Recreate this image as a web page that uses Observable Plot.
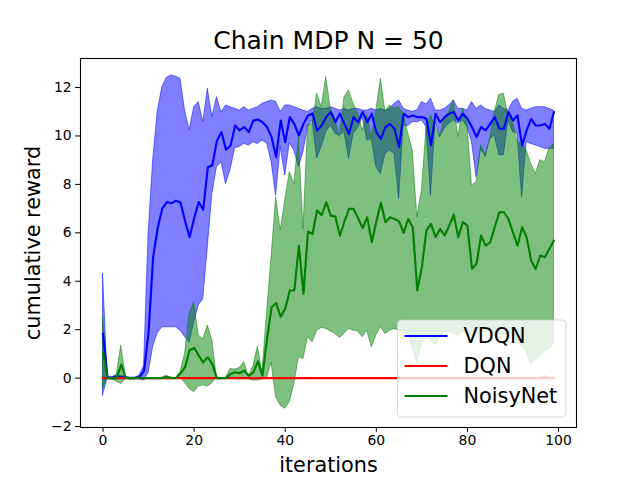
<!DOCTYPE html>
<html><head><meta charset="utf-8">
<script src="https://cdn.jsdelivr.net/npm/d3@7"></script>
<script src="https://cdn.jsdelivr.net/npm/@observablehq/plot@0.6"></script>
<style>body{margin:0;background:#fff;font-family:"DejaVu Sans",sans-serif}</style>
</head><body><div id="chart"></div>
<script>
const title = "Chain MDP N = 50";
const xLabel = "iterations";
const yLabel = "cumulative reward";
const xTicks = [0, 20, 40, 60, 80, 100];
const yTicks = [-2, 0, 2, 4, 6, 8, 10, 12];
const seriesNames = ["VDQN", "DQN", "NoisyNet"];
const seriesColors = ["#0000ff", "#ff0000", "#008000"];
const iterations = d3.range(100);

const vdqnMean = [1.83,0,0.02,0.06,0.04,0.01,0,0,0.05,0.3,
1.9,5.0,6.2,7.0,7.27,7.22,7.33,7.25,6.5,5.82,
6.6,7.27,6.95,8.7,8.8,9.8,10.16,9.43,9.61,10.43,
10.23,10.37,10.16,10.64,10.68,10.57,10.37,9.95,9.13,10.64,
9.74,10.78,10.5,10.02,10.5,10.85,10.92,10.23,10.43,10.78,
10.99,10.57,10.92,10.5,10.09,10.78,10.57,10.99,10.57,10.92,
10.16,9.88,10.37,10.5,10.3,9.54,10.92,10.78,10.85,10.78,
10.78,10.71,9.61,10.92,10.57,10.78,10.92,10.99,10.64,10.92,
10.71,10.37,9.95,10.37,10.23,10.5,10.78,10.3,10.3,10.99,
10.64,10.85,9.61,10.23,10.71,10.43,10.43,10.5,10.3,10.99];
const vdqnHigh = [4.3,0.05,0.05,0.1,0.1,0.05,0.02,0.02,0.1,0.5,
6.0,9.0,11.0,12.0,12.4,12.5,12.45,12.36,11.05,10.23,
11.19,11.4,10.57,11.95,10.78,11.6,10.98,11.26,11.19,11.12,
11.05,11.19,11.05,11.12,11.19,11.33,11.4,11.47,11.4,10.99,
11.26,11.26,11.19,11.12,11.05,10.99,11.12,11.19,11.12,11.12,
11.19,11.12,11.05,11.12,11.05,11.12,11.12,11.05,11.05,11.12,
11.05,11.12,11.05,11.12,11.33,11.47,11.12,11.05,11.0,11.05,
11.4,11.3,11.54,11.05,11.05,11.12,11.26,11.47,11.12,11.12,
11.05,11.4,11.12,11.26,11.12,11.05,10.99,11.26,11.12,11.05,
11.4,11.54,11.12,11.05,11.12,11.19,11.19,11.19,11.12,11.05];
const vdqnLow = [-0.72,0,0,0,0,0,-0.02,-0.02,-0.05,-0.1,
0.2,1.3,1.85,2.1,2.1,2.1,2.1,1.95,1.7,1.45,
2.3,3.0,3.26,5.4,7.6,8.71,8.92,8.02,8.6,9.5,
9.54,9.68,9.6,9.74,9.67,9.81,9.7,8.92,7.54,9.54,
8.37,9.7,9.4,8.71,9.33,10.37,10.64,9.06,9.54,10.16,
10.43,10.09,10.02,10.16,9.06,10.09,10.3,10.78,9.81,9.88,
8.71,8.43,9.26,9.4,9.26,7.4,10.43,10.4,10.57,10.57,
10.64,10.37,7.54,10.57,9.95,10.3,10.5,10.64,10.5,10.64,
10.37,9.74,8.3,9.47,9.13,9.88,10.02,9.2,9.2,10.64,
10.16,10.09,7.47,9.74,9.67,9.61,9.54,9.47,9.47,9.47];

const dqnMean = iterations.map(() => 0);
const dqnHigh = [0,0,0,0,0,0,0,0,0,0, 0,0,0,0,0,0,0,0,0,0,
0,0,0,0,0,0,0,0,0,0, 0,0,0,0,0,0,0,0,0,0,
0,0,0,0,0,0,0,0,0,0, 0,0,0,0,0,0,0,0,0,0,
0,0,0,0,0,0,0,0,0,0, 0,0,0,0,0,0,0,0,0,0,
0,0,0,0,0,0,0,0,0,0, 0,0,0,0,0,0,0,0.1,0,0];
const dqnLow = iterations.map(() => 0);

const noisyMean = [1.07,0,-0.02,0,0.56,0,0,0,0,0,
0,0,0,0,0.05,0,0,0.2,0.45,1.15,
1.25,0.93,0.65,0.86,0.58,0,0,0,0.17,0.24,
0.2,0.31,0.1,0.24,0.69,0.1,1.6,2.93,3.1,2.54,
2.86,3.62,3.62,5.47,3.48,6.05,5.95,6.93,6.73,7.27,
6.71,6.67,5.88,6.47,6.99,6.99,6.6,6.2,6.64,5.61,
6.47,7.24,6.44,6.64,6.57,6.47,6.0,6.57,6.23,3.62,
4.58,6.09,6.37,5.82,6.16,5.89,6.3,6.75,5.82,6.44,
6.3,4.51,4.72,5.89,5.47,5.61,6.23,6.85,6.85,6.57,
6.02,5.47,6.23,5.82,4.85,4.51,5.06,4.99,5.34,5.68];
const noisyHigh = [2.55,0,0,0.15,1.34,0.05,0,0,0,0,
0,0,0,0.02,0.1,0.02,0,0.25,1.0,2.65,
3.13,1.76,1.6,2.17,1.55,0,0,0.02,0.38,0.35,
0.42,0.66,0.05,0.5,1.3,0.2,2.7,5.0,7.47,6.1,
7.33,8.5,8.02,9.95,6.16,10.43,10.5,11.74,11.2,12.43,
11.12,10.64,9.95,11.6,11.88,11.33,10.92,10.23,10.85,9.95,
11.05,12.36,10.99,11.26,11.12,11.19,10.9,10.1,9.4,6.64,
7.74,10.3,10.85,10.37,9.95,10.71,10.99,11.47,9.95,11.12,
10.5,7.95,8.09,9.61,9.2,9.88,10.99,11.7,11.74,10.85,
10.57,9.74,9.67,9.4,8.85,8.43,9.0,8.92,9.47,9.67];
const noisyLow = [-0.45,0,-0.03,-0.15,-0.24,-0.05,0,0,0,0,
0,0,0,0,0,0,0,0,-0.2,-0.45,
-0.58,-0.35,-0.3,-0.35,-0.2,0,0,0,-0.03,-0.03,
-0.05,-0.05,-0.05,-0.1,-0.1,-0.05,0,0.62,-0.79,-1.14,
-1.27,-1.0,-0.24,0.86,0.79,1.69,1.48,1.96,2.07,2.03,
1.93,1.82,1.66,1.82,2.03,1.96,1.92,1.69,1.96,1.27,
1.75,2.1,1.82,1.96,2.03,1.96,1.89,1.8,1.2,0.65,
1.41,1.69,1.55,1.34,1.69,1.89,1.89,1.85,1.75,1.9,
1.85,1.69,1.75,1.89,1.92,1.96,1.85,1.8,1.75,1.8,
1.85,1.55,1.3,1.1,0.55,0.75,0.9,1.14,1.2,1.4];

const means = [vdqnMean, dqnMean, noisyMean];
const highs = [vdqnHigh, dqnHigh, noisyHigh];
const lows = [vdqnLow, dqnLow, noisyLow];

const tables = seriesNames.map((name, s) => iterations.map((it, k) => ({
  series: name, x: it, mean: means[s][k], lo: lows[s][k], hi: highs[s][k]
})));

const chart = Plot.plot({
  width: 640,
  height: 480,
  marginLeft: 80,
  marginRight: 64,
  marginTop: 58,
  marginBottom: 53,
  style: {fontFamily: "DejaVu Sans", fontSize: "13.9px", background: "white", color: "black", overflow: "visible"},
  x: {domain: [-4.95, 103.95], ticks: xTicks, tickSize: 4.9, tickPadding: 3, tickFormat: d => String(d), label: null},
  y: {domain: [-2.04, 13.2], ticks: yTicks, tickSize: 4.9, tickPadding: 4, tickFormat: d => d < 0 ? "\u2212" + Math.abs(d) : String(d), label: null},
  marks: [
    ...tables.map((t, s) => Plot.areaY(t, {x: "x", y1: "lo", y2: "hi", fill: seriesColors[s], fillOpacity: 0.5, stroke: seriesColors[s], strokeOpacity: 0.5, strokeWidth: 1})),
    ...tables.map((t, s) => Plot.lineY(t, {x: "x", y: "mean", stroke: seriesColors[s], strokeWidth: 2.1})),
    Plot.frame({stroke: "black", strokeWidth: 1.1}),
    Plot.text([title], {frameAnchor: "top", lineAnchor: "middle", textAnchor: "middle", dy: -18, fontSize: 25, fill: "black"}),
    Plot.text([xLabel], {frameAnchor: "bottom", lineAnchor: "middle", textAnchor: "middle", dy: 38, fontSize: 20.8, fill: "black"}),
    Plot.text([yLabel], {frameAnchor: "left", lineAnchor: "middle", textAnchor: "middle", dx: -47, rotate: -90, fontSize: 20.8, fill: "black"})
  ]
});

// Legend (inside the plot, lower right)
const svg = d3.select(chart);
const lg = svg.append("g").attr("transform", "translate(397.5,320)");
lg.append("rect").attr("width", 168.5).attr("height", 97).attr("rx", 4).attr("ry", 4)
  .attr("fill", "white").attr("fill-opacity", 0.8).attr("stroke", "#cccccc").attr("stroke-opacity", 0.8).attr("stroke-width", 1);
seriesNames.forEach((name, s) => {
  const yy = 16 + s * 30;
  lg.append("line").attr("x1", 7).attr("x2", 50).attr("y1", yy).attr("y2", yy)
    .attr("stroke", seriesColors[s]).attr("stroke-width", 2.1);
  lg.append("text").attr("x", 66).attr("y", yy).attr("dy", "0.36em")
    .attr("text-anchor", "start")
    .attr("font-size", 20.8).attr("font-family", "DejaVu Sans").attr("fill", "black").text(name);
});

document.getElementById("chart").appendChild(chart);
</script>
</body></html>
